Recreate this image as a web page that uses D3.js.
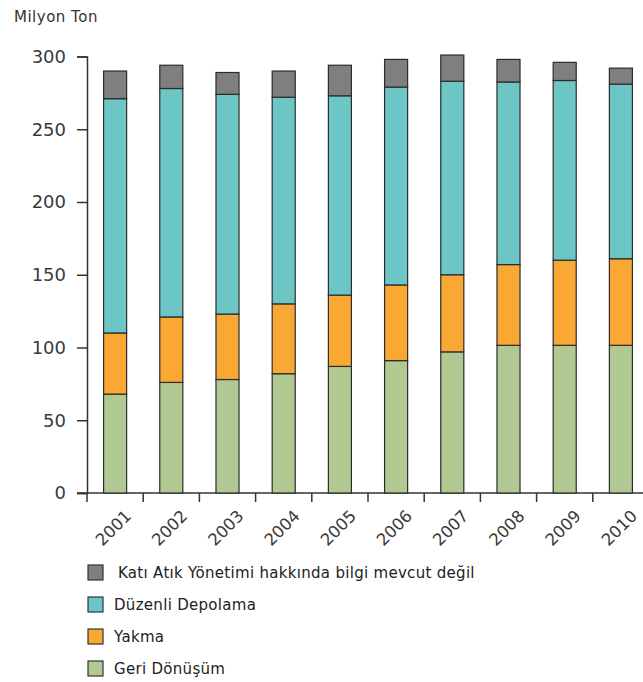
<!DOCTYPE html>
<html lang="tr">
<head>
<meta charset="UTF-8">
<title>Katı Atık Yönetimi</title>
<script src="https://d3js.org/d3.v7.min.js"></script>
<style>
  body { margin: 0; background: #fff; font-family: "DejaVu Sans", sans-serif; }
  svg { display: block; }
</style>
</head>
<body>
<svg width="643" height="682"></svg>
<script>
  // values, million tonnes
  const years = ["2001","2002","2003","2004","2005","2006","2007","2008","2009","2010"];
  const geriDonusum = [68, 76, 78, 82, 87, 91, 97, 101.5, 101.5, 101.5];
  const yakma = [42, 45, 45, 48, 49, 52, 53, 55.5, 58.5, 59.5];
  const duzenliDepolama = [161, 157, 151, 142, 137, 136, 133, 125.5, 123.5, 120];
  const bilgiYok = [19, 16, 15, 18, 21, 19, 18, 15.5, 12.5, 11];
  const yTicks = [0, 50, 100, 150, 200, 250, 300];

  const series = [
    { key: "geri", label: "Geri Dönüşüm", values: geriDonusum, color: "#b0c993" },
    { key: "yakma", label: "Yakma", values: yakma, color: "#f8a833" },
    { key: "duzenli", label: "Düzenli Depolama", values: duzenliDepolama, color: "#6dc6c6" },
    { key: "bilgi", label: "Katı Atık Yönetimi hakkında bilgi mevcut değil", values: bilgiYok, color: "#7f7f7f" }
  ];

  const rows = years.map((y, i) => {
    const r = { year: y };
    series.forEach(s => r[s.key] = s.values[i]);
    return r;
  });

  const svg = d3.select("svg");
  const x = d3.scaleBand().domain(years).range([87, 649]).paddingInner(0.59).paddingOuter(0.295);
  const y = d3.scaleLinear().domain([0, 300]).range([493, 56.5]);

  const stack = d3.stack().keys(series.map(s => s.key))(rows);

  // y axis
  const yAxis = svg.append("g")
    .attr("transform", "translate(87,0)")
    .call(d3.axisLeft(y).tickValues(yTicks).tickSize(10).tickPadding(11));
  yAxis.select(".domain").attr("stroke", "#333").attr("stroke-width", 1.5);
  yAxis.selectAll(".tick line").attr("stroke", "#333").attr("stroke-width", 1.5);
  yAxis.selectAll("text").attr("fill", "#3a3a3a").style("font-size", "18px")
    .style("font-family", "'DejaVu Sans', sans-serif");

  // x axis line and ticks between bands
  const xAxis = svg.append("g").attr("transform", "translate(0,493)");
  xAxis.append("line").attr("x1", 77).attr("x2", 643).attr("stroke", "#333").attr("stroke-width", 1.5);
  xAxis.selectAll("line.tk").data(years).enter().append("line")
    .attr("class", "tk")
    .attr("x1", d => x(d) - x.step() * x.paddingOuter())
    .attr("x2", d => x(d) - x.step() * x.paddingOuter())
    .attr("y1", 0).attr("y2", 9)
    .attr("stroke", "#333").attr("stroke-width", 1.5);
  xAxis.selectAll("text").data(years).enter().append("text")
    .attr("transform", d => `translate(${x(d) + x.bandwidth() / 2 + 9},${16}) rotate(-45)`)
    .attr("text-anchor", "end")
    .attr("dy", "0.7em")
    .attr("fill", "#3a3a3a")
    .style("font-size", "16.5px")
    .text(d => d);

  // bars
  svg.append("g").selectAll("g").data(stack).enter().append("g")
    .attr("fill", (d, i) => series[i].color)
    .selectAll("rect").data(d => d).enter().append("rect")
    .attr("x", d => x(d.data.year))
    .attr("width", x.bandwidth())
    .attr("y", d => y(d[1]))
    .attr("height", d => y(d[0]) - y(d[1]))
    .attr("stroke", "#2b2b2b")
    .attr("stroke-width", 1.2);

  // unit title
  svg.append("text").attr("x", 14).attr("y", 22)
    .attr("fill", "#333").style("font-size", "15px").style("letter-spacing", "0.5px")
    .text("Milyon Ton");

  // legend
  const legendItems = series.slice().reverse();
  const lg = svg.append("g").selectAll("g").data(legendItems).enter().append("g")
    .attr("transform", (d, i) => `translate(88,${565 + i * 32})`);
  lg.append("rect").attr("width", 15).attr("height", 15)
    .attr("fill", d => d.color).attr("stroke", "#333").attr("stroke-width", 1.2);
  lg.append("text").attr("x", (d, i) => i === 0 ? 30 : 26).attr("y", 13)
    .attr("fill", "#222").style("font-size", "15px").style("letter-spacing", "0.3px")
    .text(d => d.label);
</script>
</body>
</html>
